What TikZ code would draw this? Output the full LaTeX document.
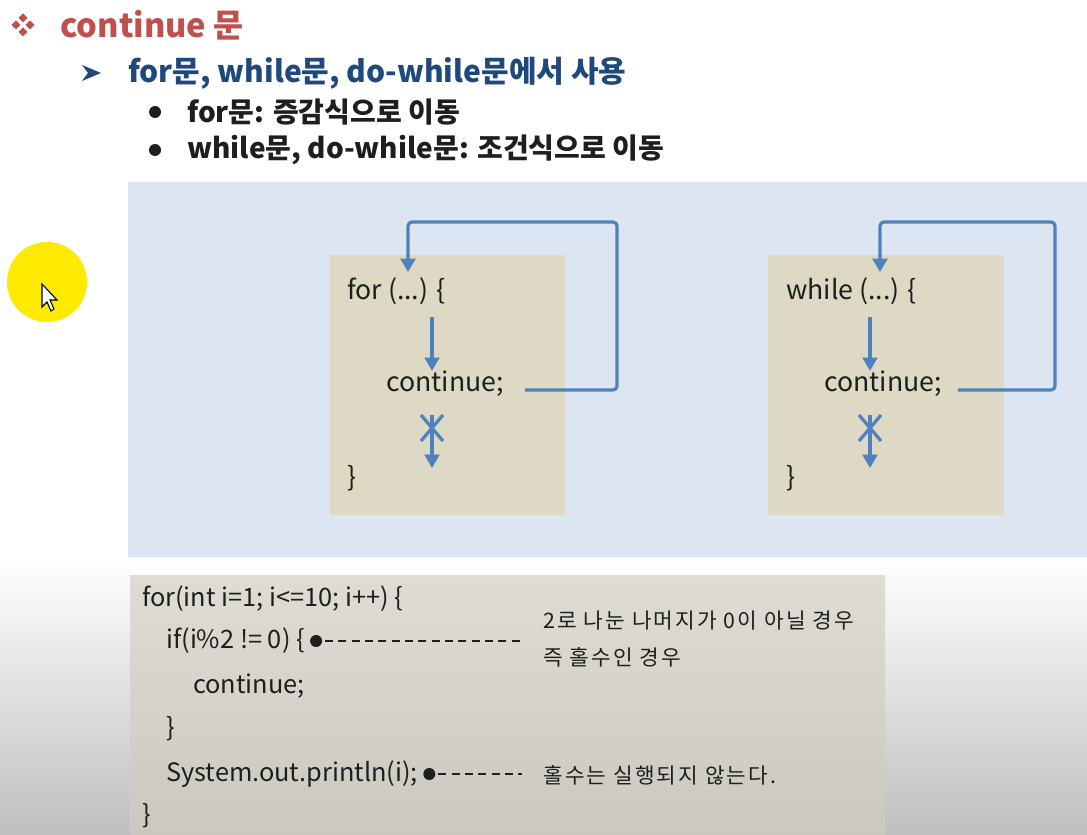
\documentclass[tikz,border=0pt]{standalone}
\usepackage{fontspec}
\setmainfont{Noto Sans CJK KR}
\usepackage{tikz}
\usetikzlibrary{calc,arrows.meta}
\definecolor{titlered}{RGB}{192,80,77}
\definecolor{headblue}{RGB}{31,73,125}
\definecolor{panelblue}{RGB}{220,230,242}
\definecolor{boxtan}{RGB}{221,217,196}
\definecolor{flowblue}{RGB}{79,129,189}
\definecolor{codetop}{RGB}{222,220,211}
\definecolor{codebot}{RGB}{202,200,191}
\definecolor{ink}{RGB}{30,30,30}
\newcommand{\fs}[1]{\fontsize{#1}{#1}\selectfont}
\newcommand{\blocked}[1]{
	\draw[flow] (#1) -- ++(0,53);
	\draw[flowline] ($(#1)+(-11,0)$) -- ($(#1)+(11,26)$);
	\draw[flowline] ($(#1)+(11,0)$) -- ($(#1)+(-11,26)$);
}
\newcommand{\codedot}[3]{
	\coordinate (#1) at ($(#2.east)+(11,0)$);
	\fill[ink] (#1) circle (6);
	\draw[ink, line width=1.8pt, dash pattern=on 6pt off 4pt] ($(#1)+(9,0)$) -- (#3 |- #1);
}

\begin{document}
\begin{tikzpicture}[x=0.75pt,y=-0.75pt,
	flowline/.style={draw=flowblue, line width=2.4pt},
	flow/.style={flowline, -{Triangle[length=10pt,width=11pt]}},
	txt/.style={inner sep=0pt, anchor=west, text=ink}]
	\useasboundingbox (0,0) rectangle (1087,834);
	\fill[white] (0,0) rectangle (1087,834);
	\shade[top color=white, bottom color=black!25] (0,557) rectangle (1087,834);
	\fill[panelblue] (128,182) rectangle (1087,557);
	\fill[boxtan] (330,255) rectangle (565,515);
	\fill[boxtan] (768,255) rectangle (1004,515);
	\shade[top color=codetop, bottom color=codebot] (130,575) rectangle (885,834);

	% headings
	\foreach \dx/\dy in {-7/0,7/0,0/-7,0/7}
		\fill[titlered] ($(23,25)+(\dx,\dy)$) +(-4.5,0) -- +(0,-4.5) -- +(4.5,0) -- +(0,4.5) -- cycle;
	\node[txt, text=titlered, font=\bfseries\fs{24.5}] (title) at (60,25) {continue 문};
	\fill[headblue] (82,65) -- (101,73) -- (82,81) -- (88,73) -- cycle;
	\node[txt, text=headblue, font=\bfseries\fs{22.5}] (sub) at (128,73) {for문, while문, do-while문에서 사용};
	\fill[ink] (155,112) circle (6);
	\node[txt, font=\bfseries\fs{21}] (item1) at (187,112) {for문: 증감식으로 이동};
	\fill[ink] (155,150) circle (6);
	\node[txt, font=\bfseries\fs{21}] (item2) at (187,150) {while문, do-while문: 조건식으로 이동};

	% cursor
	\fill[yellow!92!orange] (47,282) circle (40);
	\filldraw[fill=white, draw=black, line width=0.8pt] (42,284) -- (42,307) -- (47,302) -- (51,311) -- (54,309) -- (50,300) -- (57,300) -- cycle;

	% for loop
	\node[txt, font=\fs{20}] (for1) at (347,291) {for (...) \{};
	\node[txt, font=\fs{20}] (cont1) at (386,384) {continue;};
	\node[txt, font=\fs{20}] (end1) at (347,478) {\}};
	\coordinate (in1) at (408,272);
	\coordinate (corner1) at (617,222);
	\coordinate (down1) at (432,317);
	\coordinate (skip1) at (432,415);
	\draw[flow] (down1) -- (down1 |- cont1.north);
	\blocked{skip1}
	\draw[flow, rounded corners=3pt] ($(cont1.east)+(21,6)$) -| (corner1) -| (in1);

	% while loop
	\node[txt, font=\fs{20}] (while2) at (786,291) {while (...) \{};
	\node[txt, font=\fs{20}] (cont2) at (824,384) {continue;};
	\node[txt, font=\fs{20}] (end2) at (786,478) {\}};
	\coordinate (in2) at (880,272);
	\coordinate (corner2) at (1055,222);
	\coordinate (down2) at (870,317);
	\coordinate (skip2) at (870,415);
	\draw[flow] (down2) -- (down2 |- cont2.north);
	\blocked{skip2}
	\draw[flow, rounded corners=3pt] ($(cont2.east)+(16,6)$) -| (corner2) -| (in2);

	% example code
	\node[txt, font=\fs{19}] (code1) at (142,599) {for(int i=1; i<=10; i++) \{};
	\node[txt, font=\fs{19}] (code2) at (166,641) {if(i\%2 != 0) \{};
	\node[txt, font=\fs{19}] (code3) at (193,686) {continue;};
	\node[txt, font=\fs{19}] (code4) at (166,729) {\}};
	\node[txt, font=\fs{19}] (code5) at (166,774) {System.out.println(i);};
	\node[txt, font=\fs{19}] (code6) at (142,816) {\}};
	\node[txt, font=\fs{16}\addfontfeatures{LetterSpace=10}] (note1) at (543,621) {2로 나눈 나머지가 0이 아닐 경우};
	\node[txt, font=\fs{16}\addfontfeatures{LetterSpace=10}] (note2) at (543,657) {즉 홀수인 경우};
	\node[txt, font=\fs{16}\addfontfeatures{LetterSpace=10}] (note3) at (543,775) {홀수는 실행되지 않는다.};
	\coordinate (dashend) at (522,0);
	\codedot{dot1}{code2}{dashend}
	\codedot{dot2}{code5}{dashend}
\end{tikzpicture}
\end{document}
